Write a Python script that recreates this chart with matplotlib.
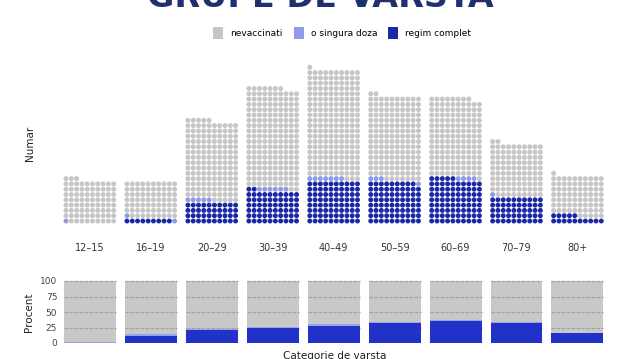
import matplotlib.pyplot as plt
from matplotlib.patches import Patch
import numpy as np

# dot counts per age group (one dot = fixed number of people)
groups = ['12-15', '16-19', '20-29', '30-39', '40-49', '50-59', '60-69', '70-79', '80+']
full = [0, 9, 40, 62, 80, 79, 85, 50, 15]       # regim complet
single = [1, 2, 5, 6, 7, 4, 4, 1, 0]            # o singura doza
total = [83, 80, 195, 257, 291, 242, 238, 152, 91]

grey = '#c6c6c6'
light = '#8f9be6'
dark = '#1a28a6'
pitch = 11.5   # group spacing in dot units
ncol = 10

fig = plt.figure(figsize=(6.4, 3.59), dpi=100)

# title (cut off at the top, like the source image)
fig.text(0.5, 1 - 7 / 359, 'GRUPE DE VARSTA', ha='center', va='baseline',
         fontsize=24, fontweight='bold', color='#1f3070', family='DejaVu Sans')

handles = [Patch(facecolor=grey, label='nevaccinati'),
           Patch(facecolor=light, label='o singura doza'),
           Patch(facecolor=dark, label='regim complet')]
fig.legend(handles=handles, loc='center', bbox_to_anchor=(0.535, 1 - 33 / 359), ncol=3,
           frameon=False, fontsize=6.5, handlelength=1.1, handleheight=1.5,
           handletextpad=0.8, columnspacing=1.2)

# waffle panel
ax = fig.add_axes([60 / 640, 1 - 226 / 359, 550 / 640, 166 / 359])
for i in range(len(groups)):
    idx = np.arange(total[i])
    xs = i * pitch + idx % ncol
    ys = idx // ncol
    cols = np.where(idx < full[i], dark, np.where(idx < full[i] + single[i], light, grey))
    ax.scatter(xs, ys, s=12.5, c=cols, linewidths=0)
ax.set_xlim(-6 / 5.3, -6 / 5.3 + 550 / 5.3)
ax.set_ylim(-5 / 5.3, -5 / 5.3 + 166 / 5.3)
ax.set_xticks([i * pitch + 4.5 for i in range(len(groups))])
ax.set_xticklabels([g.replace('-', '\u2013') for g in groups], fontsize=7, color='#333333')
ax.tick_params(axis='x', length=0, pad=12)
ax.set_yticks([])
for s in ax.spines.values():
    s.set_visible(False)
ax.set_ylabel('Numar', fontsize=7.5, color='#222222', labelpad=18)

# percent panel
pct_full = np.array(full) / np.array(total) * 100
pct_single = np.array(single) / np.array(total) * 100
centers = np.array([i * pitch + 4.5 for i in range(len(groups))])
bw = 9.8

bx = fig.add_axes([60 / 640, 1 - 343 / 359, 550 / 640, 62 / 359])
bx.bar(centers, 100, width=bw, color='#c8c8c8', zorder=1)
for c in centers:
    bx.hlines([25, 50, 75, 100], c - bw / 2, c + bw / 2, colors='#a3a3a3',
              linestyles=(0, (3, 1)), linewidth=0.9, zorder=2, clip_on=False)
bx.bar(centers, pct_full, width=bw, color='#2232c9', zorder=3)
bx.bar(centers, pct_single, width=bw, bottom=pct_full, color='#9aa3e8', zorder=3)
bx.set_xlim(ax.get_xlim())
bx.set_ylim(0, 100)
bx.set_xticks([])
bx.set_yticks([0, 25, 50, 75, 100])
bx.tick_params(axis='y', length=0, labelsize=6.5, labelcolor='#444444', pad=2)
for s in bx.spines.values():
    s.set_visible(False)
bx.set_ylabel('Procent', fontsize=7.5, color='#222222', labelpad=4)
bx.set_xlabel('Categorie de varsta', fontsize=7.5, color='#222222', labelpad=6)

fig.savefig('out.png', dpi=100)
